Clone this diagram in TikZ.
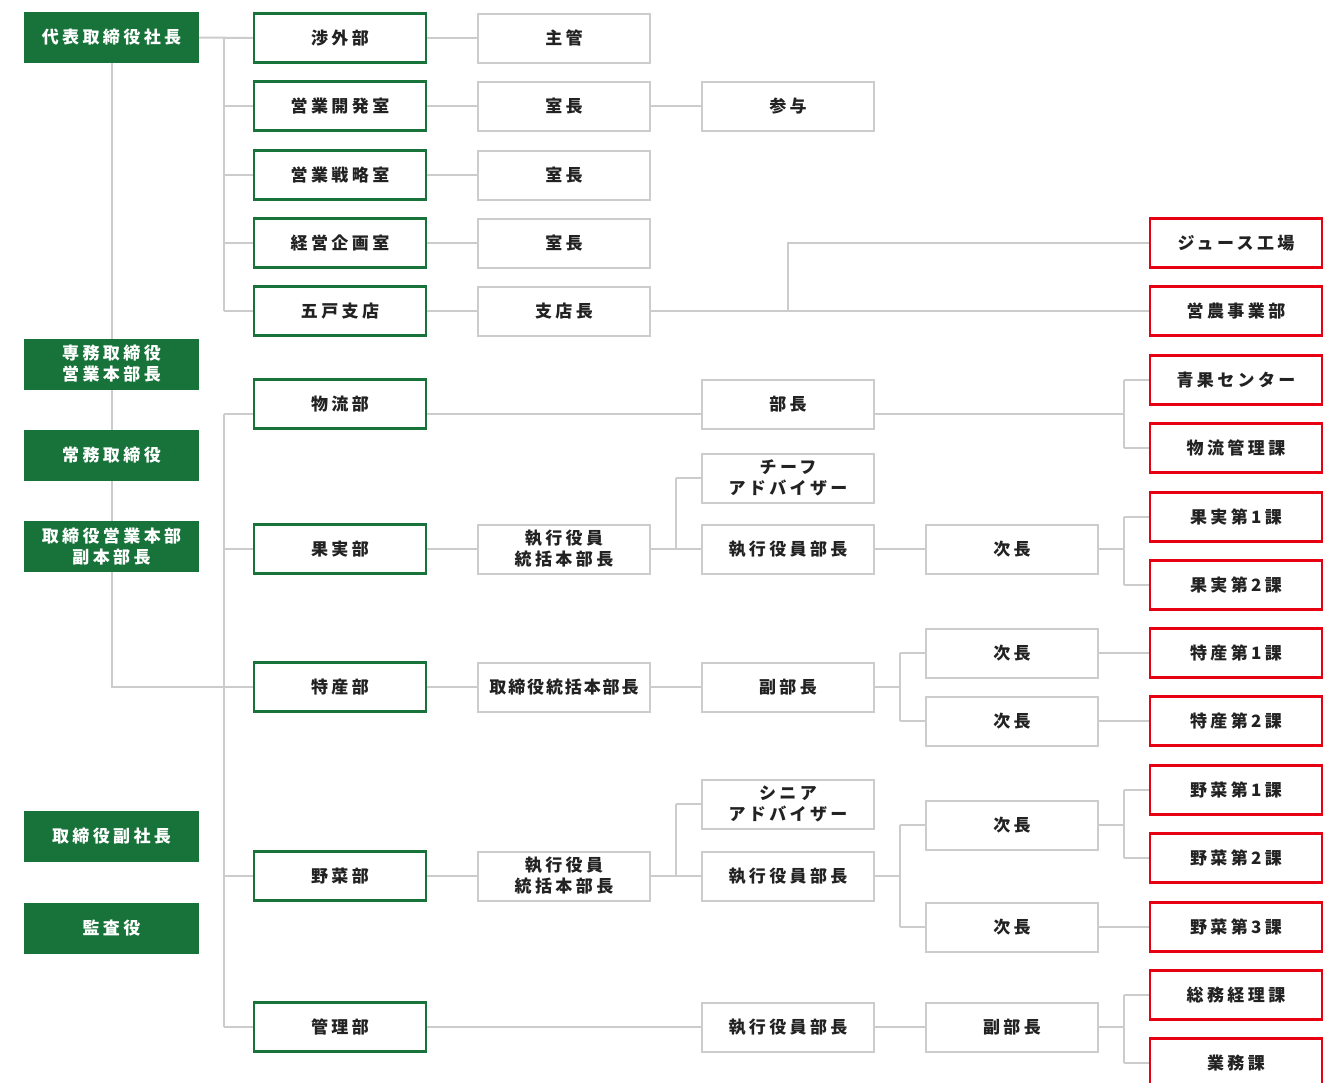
\documentclass[tikz,border=0pt]{standalone}
\usepackage{fontspec}
\setmainfont{Noto Sans CJK JP}[LetterSpace=20]
\newfontfamily\tightjp{Noto Sans CJK JP}[LetterSpace=11]
\usetikzlibrary{backgrounds}
\definecolor{cgreen}{RGB}{24,115,58}
\definecolor{cred}{RGB}{230,0,18}
\definecolor{cgray}{RGB}{204,204,204}
\definecolor{ctext}{RGB}{34,34,34}
\pgfdeclarelayer{bottomlayer}
\pgfsetlayers{bottomlayer,background,main}
\begin{document}
\begin{tikzpicture}[x=1pt,y=-1pt,
  every node/.style={font=\bfseries\fontsize{17}{21}\selectfont, align=center, inner sep=0pt},
  box/.style={minimum width=172pt, minimum height=49pt, fill=white},
  gbox/.style={box, fill=cgreen, text=white, minimum width=175pt, minimum height=51pt},
  obox/.style={box, draw=cgreen, line width=2.5pt, text=ctext},
  wbox/.style={box, draw=cgray, line width=2pt, text=ctext},
  rbox/.style={box, draw=cred, line width=2.5pt, text=ctext},
  conn/.style={draw=cgray, line width=2pt}]
\useasboundingbox (0,0) rectangle (1341,1082);
\begin{pgfonlayer}{bottomlayer}
  \fill[white] (0,0) rectangle (1341,1082);
\end{pgfonlayer}
% column 1
\node[gbox] (ceo) at (111.5,37.5) {代表取締役社長};
\node[gbox] (senmu) at (111.5,364) {専務取締役\\営業本部長};
\node[gbox] (jomu) at (111.5,455.5) {常務取締役};
\node[gbox] (torieigyo) at (111.5,546) {取締役営業本部\\副本部長};
\node[gbox] (fuku) at (111.5,836.5) {取締役副社長};
\node[gbox] (kansa) at (111.5,928) {監査役};
% column 2
\node[obox] (shogai) at (340,38) {渉外部};
\node[obox] (eikai) at (340,106) {営業開発室};
\node[obox] (eisen) at (340,175) {営業戦略室};
\node[obox] (keiei) at (340,243) {経営企画室};
\node[obox] (gonohe) at (340,311) {五戸支店};
\node[obox] (butsu) at (340,404) {物流部};
\node[obox] (kajitsu) at (340,549) {果実部};
\node[obox] (tokusan) at (340,687) {特産部};
\node[obox] (yasai) at (340,876) {野菜部};
\node[obox] (kanri) at (340,1027) {管理部};
% column 3
\node[wbox] (shukan) at (564,38) {主管};
\node[wbox] (shicho1) at (564,106) {室長};
\node[wbox] (shicho2) at (564,175) {室長};
\node[wbox] (shicho3) at (564,243) {室長};
\node[wbox] (shitencho) at (564,311) {支店長};
\node[wbox] (kaj3) at (564,549) {執行役員\\統括本部長};
\node[wbox] (tok3) at (564,687) {\tightjp\bfseries 取締役統括本部長};
\node[wbox] (yas3) at (564,876) {執行役員\\統括本部長};
% column 4
\node[wbox] (sanyo) at (788,106) {参与};
\node[wbox] (bucho) at (788,404) {部長};
\node[wbox] (chief) at (788,478) {チーフ\\アドバイザー};
\node[wbox] (kajbu) at (788,549) {執行役員部長};
\node[wbox] (tokfuku) at (788,687) {副部長};
\node[wbox] (senior) at (788,804) {シニア\\アドバイザー};
\node[wbox] (yasbu) at (788,876) {執行役員部長};
\node[wbox] (kanbu) at (788,1027) {執行役員部長};
% column 5
\node[wbox] (kajji) at (1012,549) {次長};
\node[wbox] (tokji1) at (1012,653) {次長};
\node[wbox] (tokji2) at (1012,721) {次長};
\node[wbox] (yasji1) at (1012,825) {次長};
\node[wbox] (yasji2) at (1012,927) {次長};
\node[wbox] (kanfuku) at (1012,1027) {副部長};
% column 6
\node[rbox] (juice) at (1236,243) {ジュース工場};
\node[rbox] (einou) at (1236,311) {営農事業部};
\node[rbox] (seika) at (1236,380) {青果センター};
\node[rbox] (butsukan) at (1236,448) {物流管理課};
\node[rbox] (k1) at (1236,517) {果実第1課};
\node[rbox] (k2) at (1236,585) {果実第2課};
\node[rbox] (t1) at (1236,653) {特産第1課};
\node[rbox] (t2) at (1236,721) {特産第2課};
\node[rbox] (y1) at (1236,790) {野菜第1課};
\node[rbox] (y2) at (1236,858) {野菜第2課};
\node[rbox] (y3) at (1236,927) {野菜第3課};
\node[rbox] (somu) at (1236,995) {総務経理課};
\node[rbox] (gyomu) at (1236,1063) {業務課};
% trunk x positions
\coordinate (T) at (224,0);
\coordinate (A) at (676,0);
\coordinate (C) at (900,0);
\coordinate (B) at (1124,0);
\coordinate (bw) at ([yshift=-10pt]butsu.west);
\coordinate (be) at ([yshift=-10pt]butsu.east);
\coordinate (bbw) at ([yshift=-10pt]bucho.west);
\coordinate (bbe) at ([yshift=-10pt]bucho.east);
\begin{scope}[on background layer]
  \draw[conn] (ceo.center) |- (tokusan.west);
  \draw[conn] (ceo.east) -- (shogai.west);
  \draw[conn] (T |- shogai) -- (T |- gonohe);
  \foreach \n in {eikai,eisen,keiei,gonohe} \draw[conn] (T |- \n) -- (\n.west);
  \draw[conn] (shogai.east) -- (shukan.west);
  \draw[conn] (eikai.east) -- (shicho1.west);
  \draw[conn] (shicho1.east) -- (sanyo.west);
  \draw[conn] (eisen.east) -- (shicho2.west);
  \draw[conn] (keiei.east) -- (shicho3.west);
  \draw[conn] (gonohe.east) -- (shitencho.west);
  \draw[conn] (shitencho.east) -- (einou.west);
  \draw[conn] (shitencho.east -| sanyo) |- (juice.west);
  % lower trunk
  \draw[conn] (T |- bw) -- (T |- kanri);
  \draw[conn] (T |- bw) -- (bw);
  \foreach \n in {kajitsu,yasai,kanri} \draw[conn] (T |- \n) -- (\n.west);
  % butsuryu
  \draw[conn] (be) -- (bbw);
  \draw[conn] (bbe) -- (B |- bbe);
  \draw[conn] (B |- seika) -- (B |- butsukan);
  \draw[conn] (B |- seika) -- (seika.west);
  \draw[conn] (B |- butsukan) -- (butsukan.west);
  % kajitsu
  \draw[conn] (kajitsu.east) -- (kaj3.west);
  \draw[conn] (kaj3.east) -- (kajbu.west);
  \draw[conn] (A |- chief) -- (A |- kajbu);
  \draw[conn] (A |- chief) -- (chief.west);
  \draw[conn] (kajbu.east) -- (kajji.west);
  \draw[conn] (kajji.east) -- (B |- kajji);
  \draw[conn] (B |- k1) -- (B |- k2);
  \draw[conn] (B |- k1) -- (k1.west);
  \draw[conn] (B |- k2) -- (k2.west);
  % tokusan
  \draw[conn] (tokusan.east) -- (tok3.west);
  \draw[conn] (tok3.east) -- (tokfuku.west);
  \draw[conn] (tokfuku.east) -- (C |- tokfuku);
  \draw[conn] (C |- tokji1) -- (C |- tokji2);
  \draw[conn] (C |- tokji1) -- (tokji1.west);
  \draw[conn] (C |- tokji2) -- (tokji2.west);
  \draw[conn] (tokji1.east) -- (t1.west);
  \draw[conn] (tokji2.east) -- (t2.west);
  % yasai
  \draw[conn] (yasai.east) -- (yas3.west);
  \draw[conn] (yas3.east) -- (yasbu.west);
  \draw[conn] (A |- senior) -- (A |- yasbu);
  \draw[conn] (A |- senior) -- (senior.west);
  \draw[conn] (yasbu.east) -- (C |- yasbu);
  \draw[conn] (C |- yasji1) -- (C |- yasji2);
  \draw[conn] (C |- yasji1) -- (yasji1.west);
  \draw[conn] (C |- yasji2) -- (yasji2.west);
  \draw[conn] (yasji1.east) -- (B |- yasji1);
  \draw[conn] (B |- y1) -- (B |- y2);
  \draw[conn] (B |- y1) -- (y1.west);
  \draw[conn] (B |- y2) -- (y2.west);
  \draw[conn] (yasji2.east) -- (y3.west);
  % kanri
  \draw[conn] (kanri.east) -- (kanbu.west);
  \draw[conn] (kanbu.east) -- (kanfuku.west);
  \draw[conn] (kanfuku.east) -- (B |- kanfuku);
  \draw[conn] (B |- somu) -- (B |- gyomu);
  \draw[conn] (B |- somu) -- (somu.west);
  \draw[conn] (B |- gyomu) -- (gyomu.west);
\end{scope}
\end{tikzpicture}
\end{document}
